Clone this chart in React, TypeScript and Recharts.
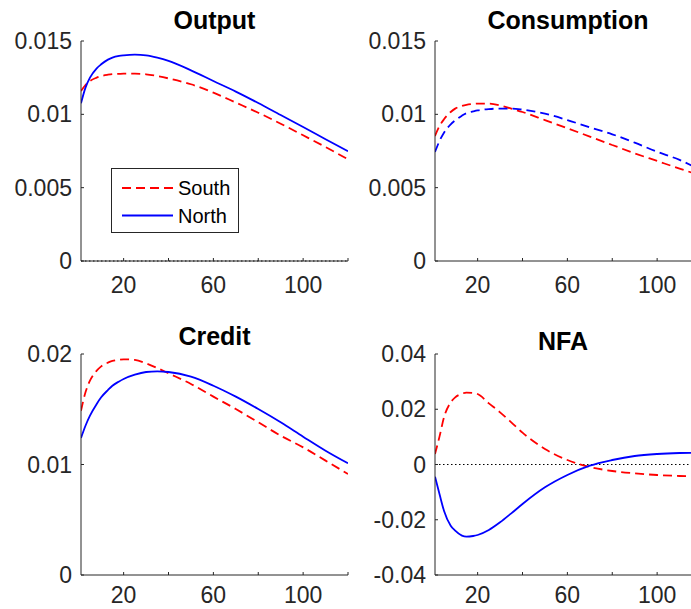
import {
  LineChart,
  Line,
  XAxis,
  YAxis,
  ReferenceLine,
} from 'recharts';

const periods = [1, 3, 5, 8, 10, 13, 15, 18, 20, 25, 30, 35, 40, 50, 60, 70, 80, 90, 100, 110, 120];

const outputSouth = [0.01159, 0.012, 0.01227, 0.0125, 0.01261, 0.0127, 0.01274, 0.01276, 0.01277, 0.01277, 0.01273, 0.01261, 0.01245, 0.01205, 0.01148, 0.0108, 0.01011, 0.00936, 0.00857, 0.00777, 0.00693];
const outputNorth = [0.01075, 0.01182, 0.0125, 0.01314, 0.01341, 0.01373, 0.01387, 0.01398, 0.01402, 0.01407, 0.01402, 0.01386, 0.01364, 0.013, 0.01227, 0.01155, 0.01077, 0.00995, 0.00914, 0.0083, 0.00748];

const consSouth = [0.00852, 0.0092, 0.00966, 0.01016, 0.01039, 0.01057, 0.01065, 0.01071, 0.01073, 0.01073, 0.01061, 0.01039, 0.01016, 0.00961, 0.00905, 0.00848, 0.00791, 0.00734, 0.00682, 0.0063, 0.0058];
const consNorth = [0.00743, 0.00818, 0.00875, 0.00932, 0.00959, 0.00991, 0.01008, 0.0102, 0.01027, 0.01036, 0.01039, 0.01039, 0.01032, 0.01005, 0.00961, 0.00911, 0.00864, 0.00807, 0.00745, 0.00689, 0.00614];

const creditSouth = [0.01487, 0.01653, 0.01759, 0.01849, 0.01888, 0.01922, 0.01937, 0.01948, 0.01952, 0.01946, 0.01916, 0.01873, 0.01825, 0.01729, 0.01614, 0.01502, 0.01382, 0.01261, 0.01155, 0.01035, 0.00914];
const creditNorth = [0.0124, 0.01351, 0.01442, 0.01548, 0.01608, 0.01674, 0.01713, 0.01752, 0.01774, 0.01813, 0.01837, 0.01843, 0.01837, 0.01795, 0.01713, 0.01614, 0.01502, 0.01382, 0.01252, 0.01125, 0.01011];

const nfaSouth = [0.0038, 0.01008, 0.01707, 0.0225, 0.02431, 0.02564, 0.026, 0.02588, 0.02552, 0.02214, 0.01888, 0.01526, 0.01152, 0.00561, 0.00163, -0.0009, -0.00235, -0.0032, -0.0038, -0.00416, -0.0044];
const nfaNorth = [-0.0044, -0.01068, -0.01671, -0.02214, -0.02395, -0.02576, -0.02612, -0.02588, -0.02552, -0.02371, -0.02094, -0.01768, -0.0143, -0.00827, -0.0038, -0.00042, 0.00163, 0.00308, 0.0038, 0.00416, 0.00428];

const xTicks = [20, 40, 60, 80, 100, 120];
const xLabels = [20, 60, 100];

const AX = '#262626';
const FONT = '"Liberation Sans", Arial, Helvetica, sans-serif';
const RED = '#ff0000';
const BLUE = '#0000ff';

function rows(south: number[], north: number[]) {
  return periods.map((p, i) => ({ period: p, south: south[i], north: north[i] }));
}

// ticks point inward like matlab, labels sit outside the box
const makeBottomTick = (labelOffset: number) => (props: any) => {
  const { x, y, payload } = props;
  return (
    <g>
      <line x1={x} x2={x} y1={y} y2={y - 3} stroke={AX} />
      {xLabels.includes(payload.value) && (
        <text x={x} y={y + labelOffset} textAnchor="middle" fill={AX} fontSize={23} fontFamily={FONT}>
          {payload.value}
        </text>
      )}
    </g>
  );
};

const topTick = (props: any) => {
  const { x, y } = props;
  return <line x1={x} x2={x} y1={y} y2={y + 3} stroke={AX} />;
};

const leftTick = (props: any) => {
  const { x, y, payload } = props;
  return (
    <g>
      <line x1={x} x2={x + 3} y1={y} y2={y} stroke={AX} />
      <text x={x - 9} y={y + 8} textAnchor="end" fill={AX} fontSize={23} fontFamily={FONT}>
        {String(payload.value)}
      </text>
    </g>
  );
};

const rightTick = (props: any) => {
  const { x, y } = props;
  return <line x1={x} x2={x - 3} y1={y} y2={y} stroke={AX} />;
};

interface PanelProps {
  title: string;
  titleX: number;
  titleY: number;
  left: number;
  top: number;
  height: number;
  marginTop: number;
  xHeight: number;
  labelOffset: number;
  south: number[];
  north: number[];
  northDashed?: boolean;
  yDomain: [number, number];
  yTicks: number[];
  zeroLine?: boolean;
}

function Panel(p: PanelProps) {
  const data = rows(p.south, p.north);
  return (
    <div style={{ position: 'absolute', left: p.left, top: p.top, width: 360, height: p.height }}>
      <div
        style={{
          position: 'absolute',
          left: p.titleX - 100,
          width: 200,
          top: p.titleY - 24,
          textAlign: 'center',
          fontFamily: FONT,
          fontWeight: 'bold',
          fontSize: 25,
          lineHeight: '30px',
          color: '#000',
        }}
      >
        {p.title}
      </div>
      <LineChart
        width={360}
        height={p.height}
        data={data}
        margin={{ top: p.marginTop, right: 12, left: 0, bottom: 0 }}
      >
        <XAxis
          dataKey="period"
          type="number"
          domain={[1, 120]}
          ticks={xTicks}
          interval={0}
          allowDataOverflow
          height={p.xHeight}
          tickSize={0}
          tickMargin={0}
          tickLine={false}
          axisLine={{ stroke: AX }}
          tick={makeBottomTick(p.labelOffset)}
        />
        <XAxis
          xAxisId="top"
          orientation="top"
          type="number"
          domain={[1, 120]}
          ticks={xTicks}
          interval={0}
          height={0}
          tickSize={0}
          tickMargin={0}
          tickLine={false}
          axisLine={{ stroke: AX }}
          tick={topTick}
        />
        <YAxis
          type="number"
          domain={p.yDomain}
          ticks={p.yTicks}
          interval={0}
          allowDataOverflow
          width={81}
          tickSize={0}
          tickMargin={0}
          tickLine={false}
          axisLine={{ stroke: AX }}
          tick={leftTick}
        />
        <YAxis
          yAxisId="r"
          orientation="right"
          type="number"
          domain={p.yDomain}
          ticks={p.yTicks}
          interval={0}
          width={0}
          tickSize={0}
          tickMargin={0}
          tickLine={false}
          axisLine={{ stroke: AX }}
          tick={rightTick}
        />
        {p.zeroLine && (
          <ReferenceLine y={0} stroke="#000" strokeWidth={1} strokeDasharray="1.5 2.5" />
        )}
        <Line
          dataKey="south"
          type="monotone"
          stroke={RED}
          strokeWidth={1.8}
          strokeDasharray="9 5"
          dot={false}
          activeDot={false}
          isAnimationActive={false}
        />
        <Line
          dataKey="north"
          type="monotone"
          stroke={BLUE}
          strokeWidth={1.8}
          strokeDasharray={p.northDashed ? '9 5' : undefined}
          dot={false}
          activeDot={false}
          isAnimationActive={false}
        />
      </LineChart>
    </div>
  );
}

function LegendBox() {
  return (
    <svg
      width={128}
      height={65}
      style={{ position: 'absolute', left: 110.5, top: 167.5 }}
    >
      <rect x={0.5} y={0.5} width={127} height={64} fill="#fff" stroke={AX} strokeWidth={1} />
      <line x1={11} x2={62} y1={20} y2={20} stroke={RED} strokeWidth={1.8} strokeDasharray="9 5" />
      <line x1={11} x2={62} y1={47.5} y2={47.5} stroke={BLUE} strokeWidth={1.8} />
      <text x={67} y={27} fontSize={20} fontFamily={FONT} fill="#000">South</text>
      <text x={67} y={54.5} fontSize={20} fontFamily={FONT} fill="#000">North</text>
    </svg>
  );
}

export default function App() {
  return (
    <div
      style={{
        position: 'absolute',
        left: 0,
        top: 0,
        width: 691,
        height: 609,
        overflow: 'hidden',
        background: '#fff',
      }}
    >
      <Panel
        title="Output"
        titleX={214.5}
        titleY={29}
        left={0}
        top={0}
        height={300}
        marginTop={41}
        xHeight={39}
        labelOffset={32}
        south={outputSouth}
        north={outputNorth}
        yDomain={[0, 0.015]}
        yTicks={[0, 0.005, 0.01, 0.015]}
        zeroLine
      />
      <Panel
        title="Consumption"
        titleX={214}
        titleY={29}
        left={354}
        top={0}
        height={300}
        marginTop={41}
        xHeight={39}
        labelOffset={32}
        south={consSouth}
        north={consNorth}
        northDashed
        yDomain={[0, 0.015]}
        yTicks={[0, 0.005, 0.01, 0.015]}
      />
      <Panel
        title="Credit"
        titleX={214.5}
        titleY={35}
        left={0}
        top={310}
        height={299}
        marginTop={44}
        xHeight={34}
        labelOffset={28}
        south={creditSouth}
        north={creditNorth}
        yDomain={[0, 0.02]}
        yTicks={[0, 0.01, 0.02]}
      />
      <Panel
        title="NFA"
        titleX={209}
        titleY={40}
        left={354}
        top={310}
        height={299}
        marginTop={44}
        xHeight={34}
        labelOffset={28}
        south={nfaSouth}
        north={nfaNorth}
        yDomain={[-0.04, 0.04]}
        yTicks={[-0.04, -0.02, 0, 0.02, 0.04]}
        zeroLine
      />
      <LegendBox />
    </div>
  );
}
